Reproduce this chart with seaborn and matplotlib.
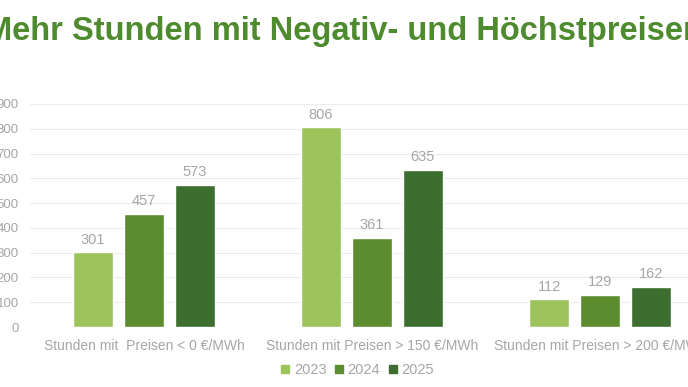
import pandas as pd
import matplotlib.pyplot as plt
import seaborn as sns

# Chart data
categories = ['Stunden mit  Preisen < 0 €/MWh',
              'Stunden mit Preisen > 150 €/MWh',
              'Stunden mit Preisen > 200 €/MWh']
years = ['2023', '2024', '2025']
hours_2023 = [301, 806, 112]
hours_2024 = [457, 361, 129]
hours_2025 = [573, 635, 162]
y_ticks = [0, 100, 200, 300, 400, 500, 600, 700, 800, 900]

colors = ['#9dc35b', '#5b8c2e', '#3c6e30']
gray = '#a6a6a6'

df = pd.DataFrame({
    'Kategorie': categories * 3,
    'Jahr': [y for y in years for _ in categories],
    'Stunden': hours_2023 + hours_2024 + hours_2025,
})

sns.set_style('white')
plt.rcParams['font.family'] = ['Liberation Sans', 'DejaVu Sans']

fig = plt.figure(figsize=(6.88, 3.87), dpi=100)
ax = fig.add_axes([30 / 688, 60 / 387, 684 / 688, 223 / 387])

sns.barplot(data=df, x='Kategorie', y='Stunden', hue='Jahr',
            palette=colors, width=0.67, gap=0.215, ax=ax,
            legend=False, saturation=1)

ax.set_ylim(0, 900)
ax.set_xlim(-0.5, 2.5)
ax.set_yticks(y_ticks)
ax.yaxis.grid(True, color='#ececec', linewidth=0.8)
ax.set_axisbelow(True)
for s in ax.spines.values():
    s.set_visible(False)
ax.tick_params(axis='y', colors=gray, labelsize=9.5, length=0, pad=8)
ax.tick_params(axis='x', colors=gray, labelsize=10, length=0, pad=9)
ax.set_xlabel('')
ax.set_ylabel('')

# value labels above bars
for cont in ax.containers:
    ax.bar_label(cont, padding=4, color=gray, fontsize=10.5)

# legend
handles = [plt.Line2D([], [], marker='s', linestyle='', markersize=6,
                      color=c) for c in colors]
fig.legend(handles, years, loc='center', bbox_to_anchor=(357 / 688, 17 / 387),
           ncol=3, frameon=False, fontsize=10.5, labelcolor=gray,
           handlelength=0.7, handletextpad=0.25, columnspacing=0.5)

fig.text(344 / 688, 1 - 31.5 / 387, 'Mehr Stunden mit Negativ- und Höchstpreisen',
         ha='center', va='center', fontsize=23.5, fontweight='bold',
         color='#4e8a2e')

fig.savefig('out.png', dpi=100)
